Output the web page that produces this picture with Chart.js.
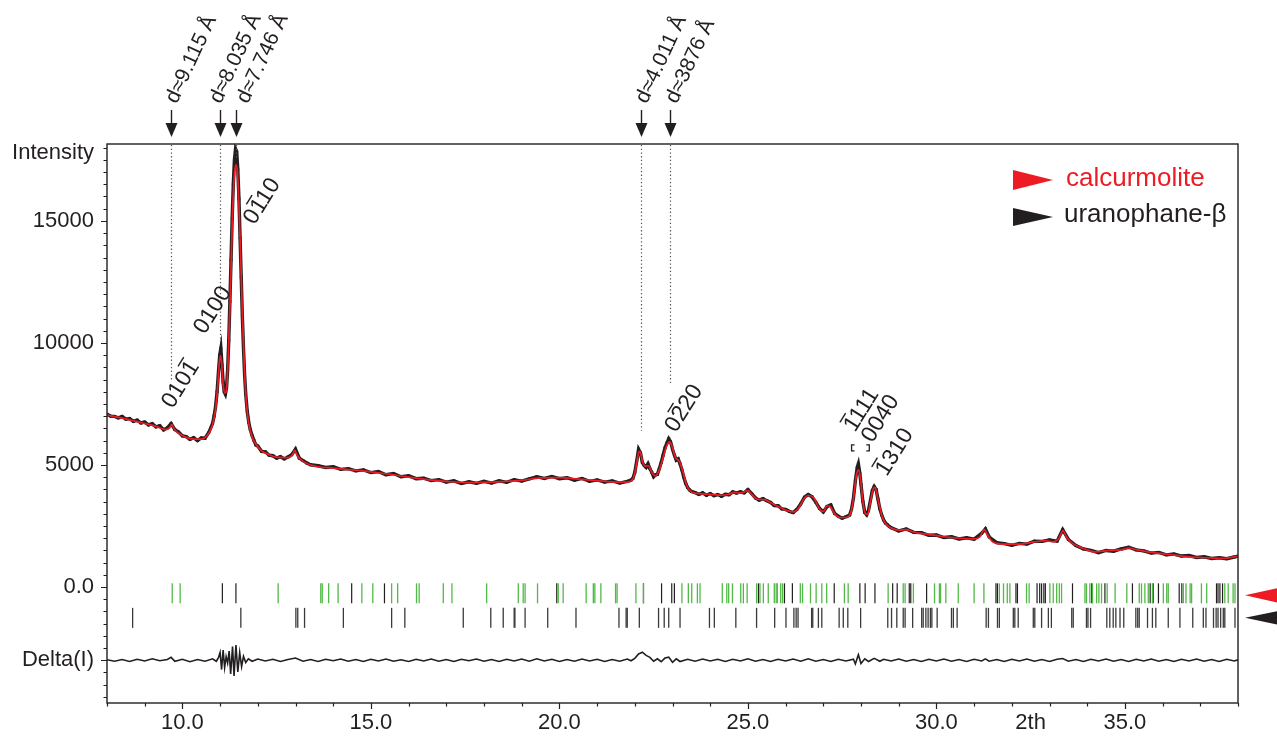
<!DOCTYPE html>
<html>
<head>
<meta charset="utf-8">
<script src="https://cdn.jsdelivr.net/npm/chart.js@4/dist/chart.umd.min.js"></script>
<style>
  html, body { margin: 0; padding: 0; background: #fff; }
  #wrap { width: 1277px; height: 740px; }
</style>
</head>
<body>
<div id="wrap"><canvas id="c"></canvas></div>
<script>
const INK = '#231f20';
const RED = '#ed1c24';
const GREEN = '#52b947';
const FONT = '"Liberation Sans", Arial, sans-serif';

// observed pattern [2theta, intensity]
const observed = [
  [8.0,7080],[8.1,7000],[8.2,6990],[8.3,6930],[8.4,6990],[8.5,6880],[8.6,6900],[8.7,6790],[8.8,6840],[8.9,6720],
  [9.0,6760],[9.1,6640],[9.2,6690],[9.3,6560],[9.4,6610],[9.5,6440],[9.6,6520],[9.7,6700],[9.8,6450],[9.9,6350],
  [10.0,6190],[10.1,6160],[10.2,6050],[10.3,6120],[10.4,6000],[10.5,6110],[10.6,6100],[10.7,6330],[10.8,6700],
  [10.84,7000],[10.88,7400],[10.92,8000],[10.96,8900],[10.99,9500],[11.02,9780],[11.05,9100],[11.08,8400],[11.11,8000],
  [11.14,7900],[11.17,8150],[11.2,8900],[11.23,10100],[11.26,11700],[11.29,13400],[11.32,15100],[11.35,16500],
  [11.38,17500],[11.41,17950],[11.44,17850],[11.47,17100],[11.5,15900],[11.53,14300],[11.56,12700],[11.59,11100],
  [11.62,9800],[11.65,8700],[11.68,7900],[11.72,7200],[11.76,6750],[11.8,6450],[11.85,6200],[11.9,6000],[11.95,5820],
  [12.0,5780],[12.1,5560],[12.2,5540],[12.3,5400],[12.4,5380],[12.5,5280],[12.6,5340],[12.7,5250],[12.8,5330],
  [12.9,5420],[13.0,5650],[13.1,5280],[13.2,5180],[13.3,5080],[13.4,5010],
  [13.6,4970],[13.8,4900],[14.0,4930],[14.2,4820],[14.4,4850],[14.6,4760],[14.8,4800],[15.0,4690],[15.2,4730],
  [15.4,4600],[15.6,4650],[15.8,4520],[16.0,4560],[16.2,4440],[16.4,4460],[16.6,4360],[16.8,4400],[17.0,4300],
  [17.2,4350],[17.4,4240],[17.6,4310],[17.8,4250],[18.0,4330],[18.2,4260],[18.4,4350],[18.6,4290],[18.8,4400],
  [19.0,4340],[19.2,4430],[19.4,4520],[19.6,4450],[19.8,4530],[20.0,4440],[20.2,4480],[20.4,4380],[20.6,4450],
  [20.8,4330],[21.0,4390],[21.2,4300],[21.4,4350],[21.6,4260],[21.8,4330],
  [21.9,4380],[21.95,4450],[22.0,4700],[22.05,5150],[22.1,5650],[22.15,5500],[22.2,5100],[22.25,4980],[22.3,4900],
  [22.35,5050],[22.4,4850],[22.45,4700],[22.5,4520],[22.55,4600],[22.6,4620],[22.65,4850],[22.7,5100],[22.75,5400],
  [22.8,5700],[22.85,5900],[22.9,6080],[22.95,5950],[23.0,5650],[23.05,5400],[23.1,5200],[23.15,5250],[23.2,5050],
  [23.25,4800],[23.3,4500],[23.35,4250],[23.4,4080],[23.45,3980],[23.5,3920],
  [23.6,3870],[23.7,3800],[23.8,3860],[23.9,3760],[24.0,3830],[24.1,3740],[24.2,3790],[24.3,3720],[24.4,3800],
  [24.5,3780],[24.6,3900],[24.7,3850],[24.8,3900],[24.9,3860],[25.0,3990],[25.1,3830],[25.2,3650],[25.3,3560],
  [25.4,3620],[25.5,3540],[25.6,3470],[25.7,3340],[25.8,3330],[25.9,3200],[26.0,3180],[26.1,3100],[26.2,3050],
  [26.3,3180],[26.4,3400],[26.5,3680],[26.6,3790],[26.7,3700],[26.8,3480],[26.9,3220],[27.0,3080],[27.1,3300],
  [27.2,3360],[27.3,3020],[27.4,2900],[27.5,2820],[27.6,2880],[27.7,2950],
  [27.75,3200],[27.8,3650],[27.85,4350],[27.9,4900],[27.93,5050],[27.97,4650],[28.0,4200],[28.05,3500],[28.1,3050],
  [28.15,2960],[28.2,3150],[28.25,3550],[28.3,3950],[28.35,4120],[28.4,4000],[28.45,3600],[28.5,3200],[28.55,2950],
  [28.6,2750],[28.65,2620],[28.7,2550],[28.75,2480],
  [28.8,2430],[29.0,2300],[29.2,2380],[29.4,2240],[29.6,2230],[29.8,2120],[30.0,2130],[30.2,2030],[30.4,2060],
  [30.6,1970],[30.8,2020],[31.0,1960],[31.2,2200],[31.3,2380],[31.4,2050],[31.6,1820],[31.8,1780],[32.0,1710],
  [32.2,1790],[32.4,1760],[32.6,1880],[32.8,1870],[33.0,1930],[33.2,1880],[33.35,2350],[33.5,1950],[33.7,1700],
  [33.9,1560],[34.1,1500],[34.3,1410],[34.5,1500],[34.7,1470],[34.9,1560],[35.1,1630],[35.3,1520],[35.5,1480],
  [35.7,1390],[35.9,1420],[36.1,1320],[36.3,1350],[36.5,1270],[36.7,1290],[36.9,1210],[37.1,1240],[37.3,1170],
  [37.5,1200],[37.7,1160],[37.9,1230],[38.0,1270]
];

// calculated profile knots [2theta, intensity]
const calculated = [
  [8.0,7050],[8.3,6950],[8.6,6850],[9.0,6700],[9.3,6580],[9.55,6450],[9.66,6520],[9.72,6650],[9.78,6480],[9.9,6300],
  [10.1,6130],[10.3,6060],[10.5,6060],[10.6,6120],[10.7,6300],[10.8,6650],[10.88,7300],[10.94,8300],[10.98,9200],
  [11.01,9480],[11.04,9200],[11.08,8300],[11.13,7950],[11.17,8100],[11.22,9600],[11.27,12000],[11.32,14800],
  [11.37,16700],[11.42,17300],[11.46,17000],[11.5,15600],[11.55,13300],[11.6,10800],[11.65,8800],[11.7,7500],
  [11.76,6700],[11.85,6150],[11.95,5850],[12.1,5580],[12.3,5420],[12.5,5320],[12.8,5300],[12.92,5420],[12.98,5600],
  [13.04,5400],[13.2,5150],[13.5,4960],[14.0,4870],[14.5,4800],[15.0,4720],[15.5,4620],[16.0,4500],[16.5,4400],
  [17.0,4330],[17.5,4280],[18.0,4290],[18.5,4320],[19.0,4370],[19.5,4470],[20.0,4480],[20.5,4420],[21.0,4360],
  [21.5,4300],[21.8,4300],[21.95,4420],[22.03,4900],[22.1,5500],[22.14,5560],[22.2,5150],[22.28,4950],[22.36,4970],
  [22.45,4700],[22.55,4550],[22.65,4800],[22.75,5300],[22.85,5800],[22.93,5950],[23.0,5700],[23.08,5300],
  [23.18,5150],[23.28,4700],[23.38,4150],[23.5,3900],[23.7,3830],[24.0,3800],[24.3,3760],[24.5,3800],[24.65,3880],
  [24.75,3850],[24.85,3870],[25.0,3950],[25.1,3800],[25.25,3600],[25.45,3580],[25.6,3450],[25.8,3300],[26.0,3150],
  [26.2,3080],[26.35,3250],[26.5,3650],[26.6,3750],[26.75,3650],[26.9,3200],[27.0,3100],[27.1,3330],[27.18,3300],
  [27.3,3000],[27.45,2850],[27.6,2850],[27.72,3000],[27.8,3600],[27.87,4500],[27.93,4800],[27.98,4500],[28.05,3500],
  [28.12,3000],[28.18,2980],[28.25,3500],[28.32,4000],[28.37,4080],[28.45,3600],[28.55,2950],[28.65,2600],
  [28.8,2420],[29.0,2330],[29.2,2350],[29.4,2250],[29.8,2150],[30.2,2060],[30.6,2000],[31.0,1970],[31.15,2050],
  [31.27,2350],[31.35,2150],[31.5,1850],[31.8,1760],[32.2,1760],[32.6,1850],[32.9,1900],[33.1,1850],[33.25,2000],
  [33.36,2300],[33.45,2050],[33.6,1800],[33.9,1580],[34.2,1440],[34.6,1500],[34.9,1520],[35.1,1600],[35.3,1530],
  [35.7,1420],[36.2,1330],[36.7,1240],[37.2,1200],[37.6,1170],[38.0,1260]
];

// difference curve [2theta, obs - calc], drawn around DELTA_BASE
const DELTA_BASE = -3000;
const difference = [
  [8.0,20],[8.2,-40],[8.4,30],[8.6,-50],[8.8,40],[9.0,-30],[9.2,60],[9.4,-20],[9.6,30],[9.7,120],[9.8,-40],
  [10.0,40],[10.2,-60],[10.4,30],[10.6,-40],[10.8,60],[10.9,-40],[10.96,120],[11.0,320],[11.04,-380],[11.08,420],
  [11.12,-300],[11.16,150],[11.2,-120],[11.24,380],[11.28,-560],[11.33,560],[11.37,-640],[11.42,620],[11.47,-480],
  [11.52,320],[11.57,-260],[11.62,160],[11.68,-90],[11.75,60],[11.85,-40],[12.0,50],[12.2,-30],[12.4,40],[12.6,-50],
  [12.8,30],[13.0,90],[13.2,-40],[13.4,30],[13.6,-50],[13.8,40],[14.0,-20],[14.2,50],[14.4,-40],[14.6,30],[14.8,-50],
  [15.0,40],[15.2,-30],[15.4,50],[15.6,-40],[15.8,20],[16.0,-50],[16.2,40],[16.4,-30],[16.6,50],[16.8,-40],[17.0,30],
  [17.2,-50],[17.4,40],[17.6,-20],[17.8,50],[18.0,-40],[18.2,30],[18.4,-50],[18.6,40],[18.8,-30],[19.0,50],[19.2,-40],
  [19.4,60],[19.6,-30],[19.8,40],[20.0,-50],[20.2,30],[20.4,-40],[20.6,50],[20.8,-30],[21.0,40],[21.2,-50],[21.4,30],
  [21.6,-40],[21.8,50],[21.9,-20],[22.0,80],[22.1,260],[22.2,330],[22.3,200],[22.4,120],[22.5,-40],[22.6,60],
  [22.7,-60],[22.8,90],[22.9,130],[23.0,-80],[23.1,60],[23.2,-50],[23.4,40],[23.6,-40],[23.8,50],[24.0,-30],
  [24.2,40],[24.4,-50],[24.6,40],[24.8,-30],[25.0,60],[25.2,-40],[25.4,30],[25.6,-50],[25.8,40],[26.0,-30],[26.2,50],
  [26.4,-40],[26.6,60],[26.8,-40],[27.0,30],[27.2,-50],[27.4,40],[27.6,-30],[27.8,40],[27.85,-150],[27.93,230],
  [28.0,-130],[28.1,60],[28.2,-50],[28.35,80],[28.5,-40],[28.6,40],[28.8,-30],[29.0,50],[29.2,-40],[29.4,30],
  [29.6,-50],[29.8,40],[30.0,-30],[30.2,50],[30.4,-40],[30.6,30],[30.8,-50],[31.0,40],[31.2,-30],[31.3,60],[31.4,-40],
  [31.6,30],[31.8,-50],[32.0,40],[32.2,-30],[32.4,50],[32.6,-40],[32.8,30],[33.0,-50],[33.2,40],[33.35,70],[33.5,-40],
  [33.7,30],[33.9,-50],[34.1,40],[34.3,-30],[34.5,50],[34.7,-40],[34.9,30],[35.1,-50],[35.3,40],[35.5,-30],[35.7,50],
  [35.9,-40],[36.1,30],[36.3,-50],[36.5,40],[36.7,-30],[36.9,50],[37.1,-40],[37.3,30],[37.5,-50],[37.7,40],[37.9,-30],
  [38.0,20]
];

// reflection positions, upper row (green, with some dark marks) and lower row
const ROW1 = -258, ROW2 = -1262;
const calcurmoliteTicks = [
  9.73,9.94,12.54,13.67,13.71,13.88,14.13,14.76,15.05,15.55,15.71,16.21,16.28,16.92,17.15,18.07,18.91,19.04,19.09,
  19.42,19.97,20.1,20.71,20.9,20.94,21.1,21.49,21.53,22.03,22.23,23.25,23.42,23.51,23.66,23.73,24.32,24.44,24.49,
  24.59,24.81,24.88,24.98,25.23,25.32,25.41,25.54,25.7,25.75,25.78,25.87,25.92,26.39,26.45,26.66,26.81,26.96,27.09,
  27.56,27.66,28.72,29.12,29.17,29.39,29.95,30.08,30.11,30.25,30.58,31.0,31.26,31.67,31.78,31.88,31.95,32.39,32.46,
  33.01,33.1,33.19,33.26,33.32,33.94,33.98,34.07,34.14,34.25,34.31,34.38,34.53,34.74,35.05,35.38,35.44,35.53,35.62,
  35.73,36.02,36.11,36.15,36.55,36.62,36.73,36.77,37.03,37.17,37.65,37.74,37.87,37.92
];
const row1DarkTicks = [
  11.06,11.42,14.49,15.36,19.93,22.23,22.71,22.98,23.05,25.28,25.97,26.18,27.29,27.97,28.11,28.37,28.84,28.96,29.28,
  29.32,29.74,31.58,31.62,32.11,32.15,32.67,32.74,32.79,32.85,32.89,33.61,34.12,34.47,35.2,35.67,35.75,35.89,36.44,
  36.51,37.43,37.47,37.52,37.59
];
const uranophaneTicks = [
  8.68,11.55,13.01,13.06,13.24,14.27,15.55,15.9,17.45,18.18,18.51,18.8,18.82,19.09,19.69,20.44,21.58,21.77,21.8,
  22.12,22.63,22.78,22.9,23.2,23.98,24.11,24.68,25.23,25.71,26.01,26.22,26.28,26.33,26.69,26.72,26.87,26.96,27.42,
  27.53,27.65,27.99,28.71,28.81,28.95,29.12,29.17,29.37,29.61,29.65,29.72,29.78,29.84,29.88,30.02,30.4,30.45,30.55,
  31.32,31.38,31.62,31.67,32.04,32.08,32.17,32.57,32.61,32.79,32.97,33.05,33.59,33.63,33.98,34.02,34.09,34.52,34.6,
  34.69,34.76,34.87,34.97,35.29,35.34,35.38,35.6,35.73,35.82,36.15,36.46,36.8,37.08,37.15,37.35,37.42,37.47,37.54,
  37.61,37.65,37.92
];

// d-spacing markers
const dLabels = ['d≈9.115 Å', 'd≈8.035 Å', 'd≈7.746 Å', 'd≈4.011 Å', 'd≈3876 Å'];
const dTwoTheta = [9.70, 11.00, 11.415, 22.16, 22.93];
const dLineEnd = [8470, 10000, 17500, 6400, 8260];
const dLabelShift = [0, -5, 6, 0, 1];

// Miller index labels (barIndex = digit with overbar, -1 none)
const millerText = ['0101', '0100', '0110', '0220', '1111', '0040', '1310'];
const millerBar = [3, -1, 1, 1, 0, -1, 0];
const millerX = [9.96, 10.81, 12.12, 23.31, 28.02, 28.52, 28.9];
const millerY = [8300, 11340, 15800, 7320, 7250, 6900, 5520];

const xTickValues = [10, 15, 20, 25, 30, 32.5, 35];
const yTickValues = [-3000, 0, 5000, 10000, 15000, 17770];
const yTickLabels = { '-3000': 'Delta(I)', '0': '0.0', '5000': '5000', '10000': '10000', '15000': '15000', '17770': 'Intensity' };
const yMajor = [-3000, 0, 5000, 10000, 15000];

const pts = arr => arr.map(p => ({ x: p[0], y: p[1] }));
const tickPts = (arr, row) => arr.map(v => ({ x: v, y: row }));

function triangle(ctx, tipX, tipY, w, h, dir) {
  ctx.beginPath();
  ctx.moveTo(tipX, tipY);
  ctx.lineTo(tipX - dir * w, tipY - h / 2);
  ctx.lineTo(tipX - dir * w, tipY + h / 2);
  ctx.closePath();
  ctx.fill();
}

const decorations = {
  id: 'decorations',
  afterDatasetsDraw(chart) {
    const { ctx, chartArea: a, scales: { x, y } } = chart;
    ctx.save();
    ctx.strokeStyle = INK;
    ctx.fillStyle = INK;

    // frame
    ctx.lineWidth = 1.4;
    ctx.strokeRect(a.left, a.top, a.right - a.left, a.bottom - a.top);

    // axis tick marks
    ctx.lineWidth = 1.2;
    ctx.beginPath();
    for (let v = 8; v <= 38; v++) {
      const px = Math.round(x.getPixelForValue(v)) + 0.5;
      const len = v % 5 === 0 ? 6 : 3.5;
      ctx.moveTo(px, a.bottom);
      ctx.lineTo(px, a.bottom + len);
    }
    for (let v = -4500; v <= 18000; v += 500) {
      const py = Math.round(y.getPixelForValue(v)) + 0.5;
      const len = yMajor.includes(v) ? 6 : 3.5;
      ctx.moveTo(a.left, py);
      ctx.lineTo(a.left - len, py);
    }
    ctx.stroke();

    // dotted guide lines
    ctx.save();
    ctx.strokeStyle = '#555';
    ctx.lineWidth = 1.2;
    ctx.setLineDash([1.3, 2.4]);
    dTwoTheta.forEach((t, i) => {
      const px = Math.round(x.getPixelForValue(t)) + 0.5;
      ctx.beginPath();
      ctx.moveTo(px, a.top + 1);
      ctx.lineTo(px, y.getPixelForValue(dLineEnd[i]));
      ctx.stroke();
    });
    ctx.restore();

    // arrows and d-spacing labels
    ctx.font = '21px ' + FONT;
    ctx.textAlign = 'left';
    ctx.textBaseline = 'middle';
    dTwoTheta.forEach((t, i) => {
      const px = Math.round(x.getPixelForValue(t)) + 0.5;
      ctx.lineWidth = 1.4;
      ctx.beginPath();
      ctx.moveTo(px, a.top - 34);
      ctx.lineTo(px, a.top - 20);
      ctx.stroke();
      ctx.beginPath();
      ctx.moveTo(px, a.top - 7);
      ctx.lineTo(px - 6, a.top - 21);
      ctx.lineTo(px + 6, a.top - 21);
      ctx.closePath();
      ctx.fill();
      ctx.save();
      ctx.translate(px + dLabelShift[i], a.top - 42);
      ctx.rotate(-65 * Math.PI / 180);
      ctx.fillText(dLabels[i], 0, 0);
      ctx.restore();
    });

    // Miller indices
    ctx.font = '23px ' + FONT;
    ctx.textAlign = 'left';
    ctx.textBaseline = 'middle';
    millerText.forEach((txt, i) => {
      const cx = x.getPixelForValue(millerX[i]);
      const cy = y.getPixelForValue(millerY[i]);
      const w = ctx.measureText(txt).width;
      ctx.save();
      ctx.translate(cx, cy);
      ctx.rotate(-58 * Math.PI / 180);
      ctx.fillText(txt, -w / 2, 0);
      if (millerBar[i] >= 0) {
        const x0 = -w / 2 + ctx.measureText(txt.slice(0, millerBar[i])).width;
        const cw = ctx.measureText(txt[millerBar[i]]).width;
        ctx.lineWidth = 1.4;
        ctx.beginPath();
        ctx.moveTo(x0 + 1, -12);
        ctx.lineTo(x0 + cw - 1, -12);
        ctx.stroke();
      }
      ctx.restore();
    });

    // bracket grouping the 27.9 reflections
    const bx0 = x.getPixelForValue(27.75), bx1 = x.getPixelForValue(28.22);
    const by = y.getPixelForValue(5700);
    ctx.lineWidth = 1.3;
    ctx.beginPath();
    ctx.moveTo(bx0 + 3, by - 3); ctx.lineTo(bx0, by - 3); ctx.lineTo(bx0, by + 3); ctx.lineTo(bx0 + 3, by + 3);
    ctx.moveTo(bx1 - 3, by - 3); ctx.lineTo(bx1, by - 3); ctx.lineTo(bx1, by + 3); ctx.lineTo(bx1 - 3, by + 3);
    ctx.stroke();

    // row markers on the right
    ctx.fillStyle = RED;
    triangle(ctx, a.right + 7, y.getPixelForValue(ROW1) + 2, 34, 15, -1);
    ctx.fillStyle = INK;
    triangle(ctx, a.right + 7, y.getPixelForValue(ROW2), 34, 14, -1);

    // legend
    ctx.font = '26px ' + FONT;
    ctx.textAlign = 'left';
    ctx.textBaseline = 'middle';
    ctx.fillStyle = RED;
    triangle(ctx, a.right - 185, a.top + 36, 40, 20, 1);
    ctx.fillText('calcurmolite', a.right - 172, a.top + 35);
    ctx.fillStyle = INK;
    triangle(ctx, a.right - 185, a.top + 73, 40, 18, 1);
    ctx.fillText('uranophane-β', a.right - 174, a.top + 71);

    ctx.restore();
  }
};

new Chart(document.getElementById('c'), {
  type: 'scatter',
  data: {
    datasets: [
      {
        label: 'calculated', data: pts(calculated), showLine: true,
        borderColor: RED, borderWidth: 1.7, pointRadius: 0, cubicInterpolationMode: 'monotone'
      },
      {
        label: 'observed', data: pts(observed), showLine: true,
        borderColor: INK, borderWidth: 3.4, pointRadius: 2, pointStyle: 'rect',
        pointBackgroundColor: INK, pointBorderColor: INK, pointBorderWidth: 0
      },
      {
        label: 'difference', data: difference.map(p => ({ x: p[0], y: DELTA_BASE + p[1] })), showLine: true,
        borderColor: INK, borderWidth: 1.6, pointRadius: 0
      },
      {
        label: 'calcurmolite', data: tickPts(calcurmoliteTicks, ROW1), showLine: false,
        pointStyle: 'line', pointRotation: 90, pointRadius: 10, pointBorderColor: GREEN, pointBorderWidth: 1.3
      },
      {
        label: 'row1 dark', data: tickPts(row1DarkTicks, ROW1), showLine: false,
        pointStyle: 'line', pointRotation: 90, pointRadius: 10, pointBorderColor: INK, pointBorderWidth: 1.2
      },
      {
        label: 'uranophane-β', data: tickPts(uranophaneTicks, ROW2), showLine: false,
        pointStyle: 'line', pointRotation: 90, pointRadius: 10, pointBorderColor: '#3a3a3a', pointBorderWidth: 1.3
      }
    ]
  },
  options: {
    responsive: true,
    maintainAspectRatio: false,
    animation: false,
    events: [],
    layout: { padding: { top: 144, right: 39, left: 0, bottom: 0 } },
    plugins: { legend: { display: false }, tooltip: { enabled: false } },
    scales: {
      x: {
        type: 'linear', min: 8, max: 38,
        afterBuildTicks: s => { s.ticks = xTickValues.map(v => ({ value: v })); },
        afterFit: s => { s.height = 37; },
        grid: { drawOnChartArea: false, drawTicks: false },
        border: { display: false },
        ticks: {
          padding: 7, color: INK, font: { family: FONT, size: 22 }, maxRotation: 0, autoSkip: false,
          callback: v => v === 32.5 ? '2th' : v.toFixed(1)
        }
      },
      y: {
        type: 'linear', min: -4750, max: 18150,
        afterBuildTicks: s => { s.ticks = yTickValues.map(v => ({ value: v })); },
        afterFit: s => { s.width = 107; },
        grid: { drawOnChartArea: false, drawTicks: false },
        border: { display: false },
        ticks: {
          padding: 13, color: INK, font: { family: FONT, size: 22 }, autoSkip: false,
          callback: v => yTickLabels[String(v)]
        }
      }
    }
  },
  plugins: [decorations]
});
</script>
</body>
</html>
